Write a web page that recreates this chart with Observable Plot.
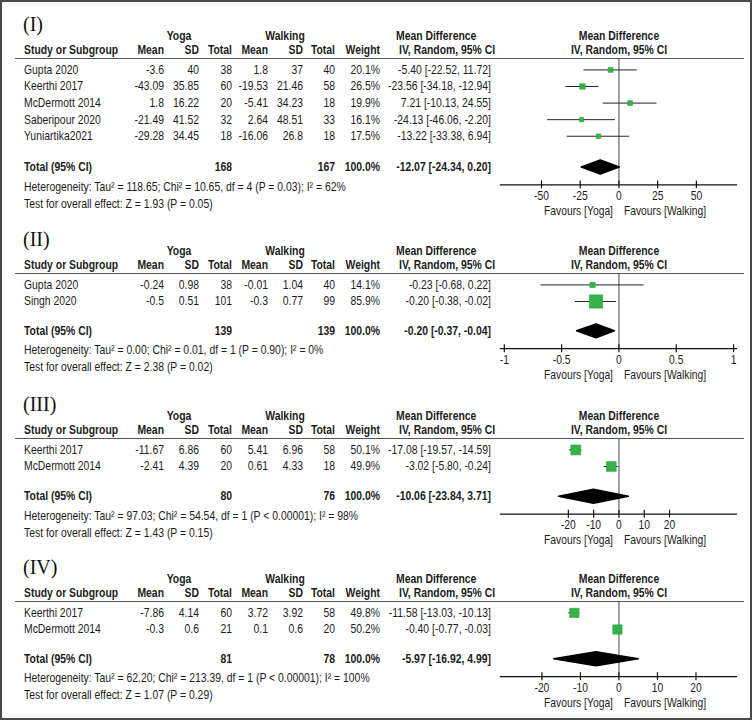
<!DOCTYPE html>
<html><head><meta charset="utf-8">
<script src="https://cdn.jsdelivr.net/npm/d3@7"></script>
<script src="https://cdn.jsdelivr.net/npm/@observablehq/plot@0.6"></script>
<style>
body{margin:0;background:#fff;}
#fig{position:relative;width:752px;height:720px;box-sizing:border-box;border:2px solid #4a4a4a;overflow:hidden;
 font-family:"Liberation Sans Narrow","Arial Narrow","Liberation Sans",Arial,sans-serif;font-size:13px;color:#1c1c1c;}
.t{position:absolute;white-space:nowrap;line-height:14px;height:14px;}
.b{font-weight:bold;}
.lab{font-family:"Liberation Serif","Times New Roman",serif;font-size:20px;line-height:22px;height:22px;color:#111;}
.fp{position:absolute;}
</style></head><body><div id="fig"></div>
<script>
// ---------- DATA ----------
// row: [study, yogaMean, yogaSD, yogaN, walkMean, walkSD, walkN, weight%, MD, lo, hi]
const p1Label = "(I)";
const p1Rows = [
  ["Gupta 2020", -3.6, 40, 38, 1.8, 37, 40, 20.1, -5.40, -22.52, 11.72],
  ["Keerthi 2017", -43.09, 35.85, 60, -19.53, 21.46, 58, 26.5, -23.56, -34.18, -12.94],
  ["McDermott 2014", 1.8, 16.22, 20, -5.41, 34.23, 18, 19.9, 7.21, -10.13, 24.55],
  ["Saberipour 2020", -21.49, 41.52, 32, 2.64, 48.51, 33, 16.1, -24.13, -46.06, -2.20],
  ["Yuniartika2021", -29.28, 34.45, 18, -16.06, 26.8, 18, 17.5, -13.22, -33.38, 6.94]
];
const p1Pooled = [168, 167, -12.07, -24.34, 0.20];
const p1Het = "Heterogeneity: Tau² = 118.65; Chi² = 10.65, df = 4 (P = 0.03); I² = 62%";
const p1Test = "Test for overall effect: Z = 1.93 (P = 0.05)";
const p1Ticks = [-50, -25, 0, 25, 50];

const p2Label = "(II)";
const p2Rows = [
  ["Gupta 2020", -0.24, 0.98, 38, -0.01, 1.04, 40, 14.1, -0.23, -0.68, 0.22],
  ["Singh 2020", -0.5, 0.51, 101, -0.3, 0.77, 99, 85.9, -0.20, -0.38, -0.02]
];
const p2Pooled = [139, 139, -0.20, -0.37, -0.04];
const p2Het = "Heterogeneity: Tau² = 0.00; Chi² = 0.01, df = 1 (P = 0.90); I² = 0%";
const p2Test = "Test for overall effect: Z = 2.38 (P = 0.02)";
const p2Ticks = [-1, -0.5, 0, 0.5, 1];

const p3Label = "(III)";
const p3Rows = [
  ["Keerthi 2017", -11.67, 6.86, 60, 5.41, 6.96, 58, 50.1, -17.08, -19.57, -14.59],
  ["McDermott 2014", -2.41, 4.39, 20, 0.61, 4.33, 18, 49.9, -3.02, -5.80, -0.24]
];
const p3Pooled = [80, 76, -10.06, -23.84, 3.71];
const p3Het = "Heterogeneity: Tau² = 97.03; Chi² = 54.54, df = 1 (P < 0.00001); I² = 98%";
const p3Test = "Test for overall effect: Z = 1.43 (P = 0.15)";
const p3Ticks = [-20, -10, 0, 10, 20];

const p4Label = "(IV)";
const p4Rows = [
  ["Keerthi 2017", -7.86, 4.14, 60, 3.72, 3.92, 58, 49.8, -11.58, -13.03, -10.13],
  ["McDermott 2014", -0.3, 0.6, 21, 0.1, 0.6, 20, 50.2, -0.40, -0.77, -0.03]
];
const p4Pooled = [81, 78, -5.97, -16.92, 4.99];
const p4Het = "Heterogeneity: Tau² = 62.20; Chi² = 213.39, df = 1 (P < 0.00001); I² = 100%";
const p4Test = "Test for overall effect: Z = 1.07 (P = 0.29)";
const p4Ticks = [-20, -10, 0, 10, 20];

const colHeads = ["Mean", "SD", "Total", "Mean", "SD", "Total", "Weight"];
const groupHeads = ["Yoga", "Walking"];
const favours = ["Favours [Yoga]", "Favours [Walking]"];

// ---------- LAYOUT / STYLE ----------
const fig = document.getElementById("fig");
const FONT = '"Liberation Sans Narrow","Arial Narrow","Liberation Sans",Arial,sans-serif';
const SX = 0.8; // horizontal condensing of the sans text
const GREEN = "#34b34a";
const ROW = 16.7;
const colX = [162, 197, 230, 266, 301, 333, 378]; // right edges of table columns
const mdX = 489, leftX = 21, studyX = 22, mdHeadX = 394, fpCenter = 617;
const svgLeft = 470, svgW = 280, mL = 28, mR = 13;

function put(x, y, text, align, cls) {
  const d = document.createElement("div");
  d.className = "t" + (cls ? " " + cls : "");
  d.textContent = text;
  const isLab = cls && cls.includes("lab");
  const h = isLab ? 22 : 14;
  d.style.top = (y - h / 2) + "px";
  if (align === "right") { d.style.left = (x - 300) + "px"; d.style.width = "300px"; d.style.textAlign = "right"; d.style.transformOrigin = "right center"; }
  else if (align === "center") { d.style.left = (x - 150) + "px"; d.style.width = "300px"; d.style.textAlign = "center"; d.style.transformOrigin = "center center"; }
  else { d.style.left = x + "px"; d.style.transformOrigin = "left center"; }
  if (!isLab) d.style.transform = `scaleX(${SX})`;
  fig.appendChild(d);
}
const fmt = v => String(v);
const fmt2 = v => v.toFixed(2);
const ci = (m, l, h) => `${fmt2(m)} [${fmt2(l)}, ${fmt2(h)}]`;

function condense(svg) {
  svg.querySelectorAll("text").forEach(t => {
    const tr = t.getAttribute("transform");
    if (tr) t.setAttribute("transform", tr + ` scale(${SX},1)`);
    else {
      const x = +t.getAttribute("x") || 0, y = +t.getAttribute("y") || 0;
      t.removeAttribute("x"); t.removeAttribute("y");
      t.setAttribute("transform", `translate(${x},${y}) scale(${SX},1)`);
    }
  });
}

function panel(U, label, rows, pooled, het, test, ticks, half, k, totGap) {
  const n = rows.length;
  const rowY = i => U + 10.5 + i * ROW;
  const totRow = (n - 1) + totGap / ROW;
  const axisRow = totRow + 18 / ROW;
  const totY = rowY(totRow);
  // headers
  put(leftX, U - 35, label, "left", "lab");
  put(177, U - 23, groupHeads[0], "center", "b");
  put(283, U - 23, groupHeads[1], "center", "b");
  put(studyX, U - 9, "Study or Subgroup", "left", "b");
  colHeads.forEach((c, j) => put(colX[j], U - 9, c, "right", "b"));
  put(mdHeadX, U - 23, "Mean Difference", "left", "b");
  put(mdHeadX + 3, U - 9, "IV, Random, 95% CI", "left", "b");
  put(fpCenter, U - 23, "Mean Difference", "center", "b");
  put(fpCenter, U - 9, "IV, Random, 95% CI", "center", "b");
  // underline
  const ln = document.createElement("div");
  ln.style.cssText = `position:absolute;left:13px;width:729px;top:${U - 1}px;height:0;border-top:1.5px solid #555;`;
  fig.appendChild(ln);
  // study rows
  rows.forEach((r, i) => {
    const y = rowY(i);
    put(studyX, y, r[0], "left");
    for (let j = 1; j <= 6; j++) put(colX[j - 1], y, fmt(r[j]), "right");
    put(colX[6], y, r[7].toFixed(1) + "%", "right");
    put(mdX, y, ci(r[8], r[9], r[10]), "right");
  });
  // total row
  put(studyX, totY, "Total (95% CI)", "left", "b");
  put(colX[2], totY, fmt(pooled[0]), "right", "b");
  put(colX[5], totY, fmt(pooled[1]), "right", "b");
  put(colX[6], totY, "100.0%", "right", "b");
  put(mdX, totY, ci(pooled[2], pooled[3], pooled[4]), "right", "b");
  put(studyX, totY + 19.5, het, "left");
  put(studyX, totY + 36.5, test, "left");

  // forest plot
  const dh = 7 / ROW;
  const diamond = [
    {x: pooled[3], y: totRow}, {x: pooled[2], y: totRow - dh},
    {x: pooled[4], y: totRow}, {x: pooled[2], y: totRow + dh}
  ];
  const tk = 4 / ROW;
  const svgH = Math.round(10.5 + axisRow * ROW + 36);
  const chart = Plot.plot({
    width: svgW, height: svgH,
    marginLeft: mL, marginRight: mR, marginTop: 0, marginBottom: 0,
    style: {fontFamily: FONT, fontSize: "13px", color: "#1c1c1c", background: "transparent", overflow: "visible"},
    x: {domain: [-half, half], axis: null},
    y: {domain: [0, 1], range: [10.5, 10.5 + ROW], axis: null},
    r: {type: "identity"},
    marks: [
      Plot.ruleX([0], {y1: -10.5 / ROW, y2: axisRow, stroke: "#444", strokeWidth: 1}),
      Plot.ruleY([axisRow], {stroke: "#111", strokeWidth: 1.3}),
      Plot.ruleX(ticks, {x: d => d, y1: axisRow - tk, y2: axisRow + tk, stroke: "#111", strokeWidth: 1.2}),
      Plot.text(ticks, {x: d => d, y: axisRow, dy: 11, text: d => String(d), fill: "#1c1c1c"}),
      Plot.text([favours[0]], {x: 0, y: axisRow, dy: 26, dx: -6, textAnchor: "end", text: d => d, fill: "#1c1c1c"}),
      Plot.text([favours[1]], {x: 0, y: axisRow, dy: 26, dx: 5, textAnchor: "start", text: d => d, fill: "#1c1c1c"}),
      Plot.ruleY(rows, {y: (d, i) => i, x1: d => d[9], x2: d => d[10], stroke: "#222", strokeWidth: 1}),
      Plot.dot(rows, {x: d => d[8], y: (d, i) => i, r: d => k * Math.sqrt(d[7]) / 1.772, symbol: "square", fill: GREEN, stroke: "#2a9a3c", strokeWidth: 0.5}),
      Plot.line(diamond, {x: "x", y: "y", curve: "linear-closed", fill: "#000", stroke: "#000"})
    ]
  });
  condense(chart);
  const wrap = document.createElement("div");
  wrap.className = "fp";
  wrap.style.left = svgLeft + "px";
  wrap.style.top = U + "px";
  wrap.appendChild(chart);
  fig.appendChild(wrap);
}

panel(57, p1Label, p1Rows, p1Pooled, p1Het, p1Test, p1Ticks, 76.6, 1.1, 31);
panel(272, p2Label, p2Rows, p2Pooled, p2Het, p2Test, p2Ticks, 1.035, 1.45, 29.5);
panel(437, p3Label, p3Rows, p3Pooled, p3Het, p3Test, p3Ticks, 46.9, 1.41, 30);
panel(600, p4Label, p4Rows, p4Pooled, p4Het, p4Test, p4Ticks, 30.8, 1.34, 29.5);
</script></body></html>
